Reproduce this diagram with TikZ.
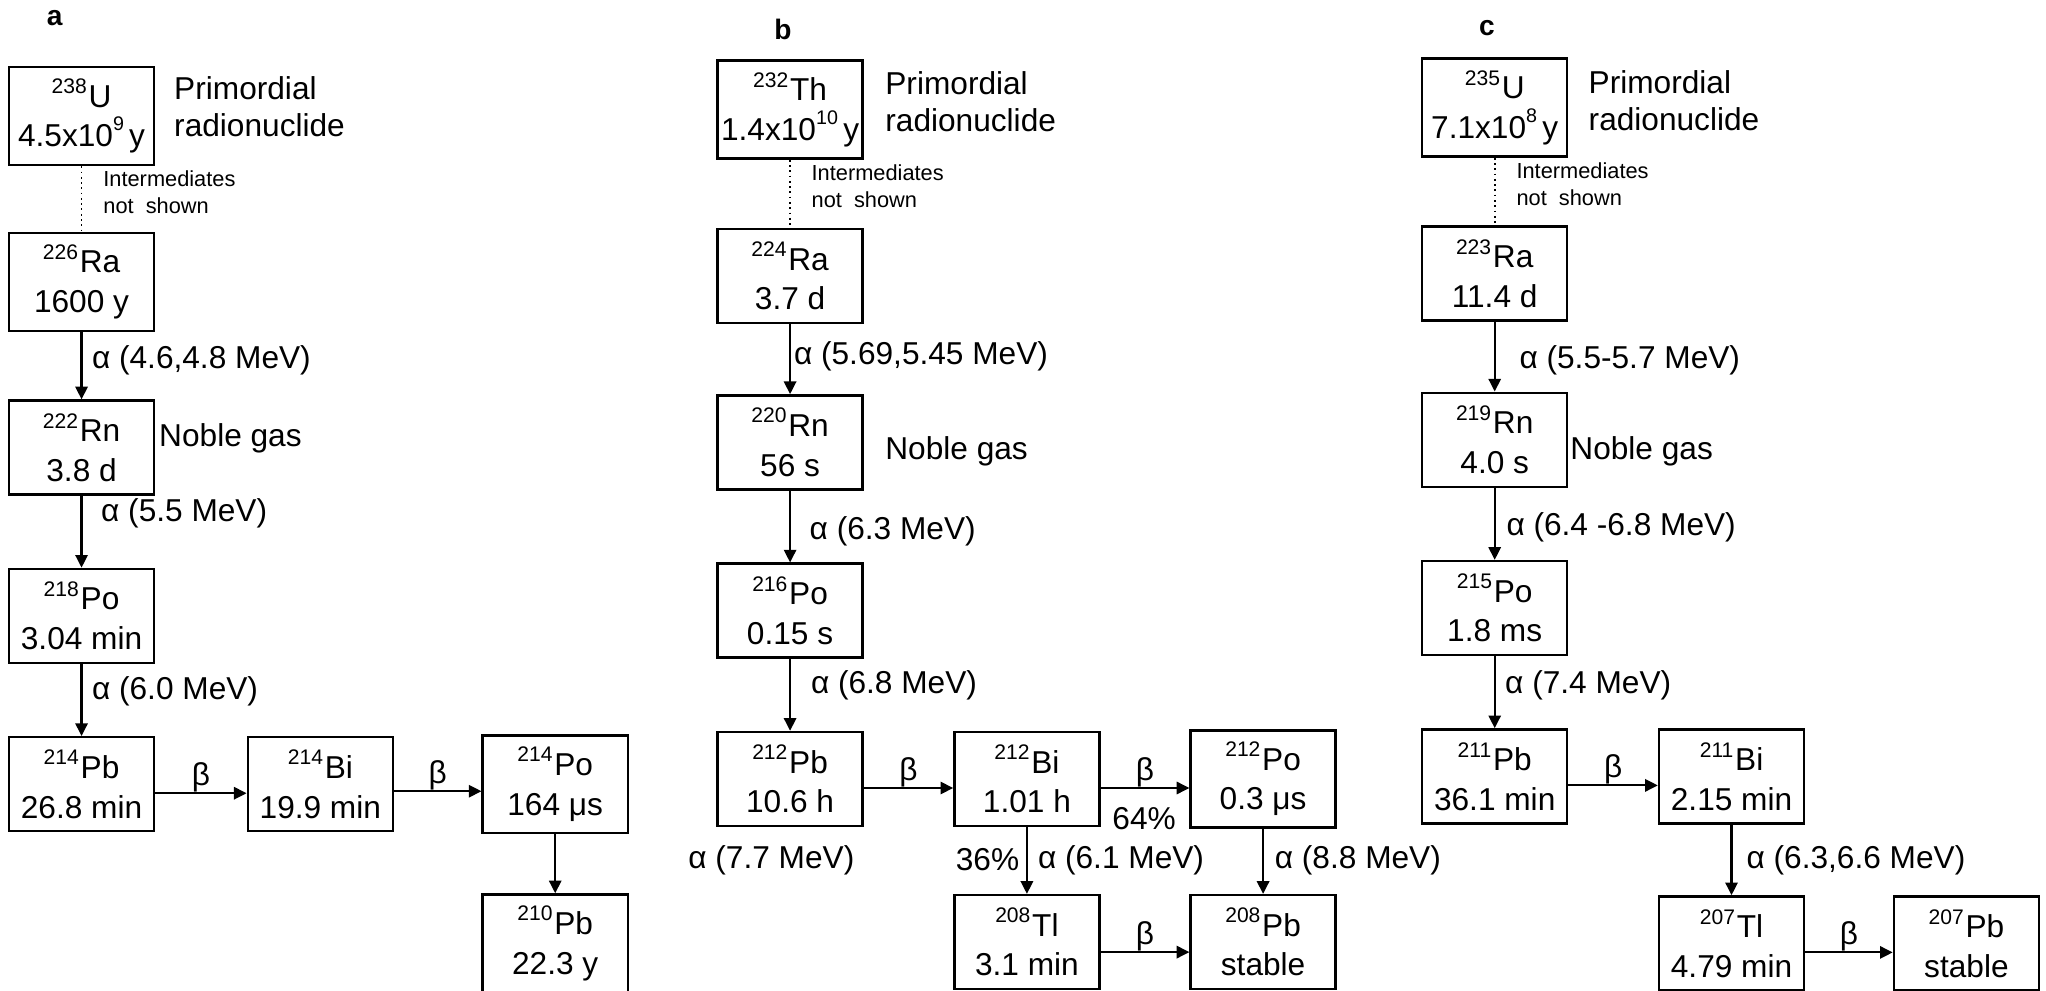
\documentclass[tikz,border=0pt]{standalone}
\usepackage{fontspec}
\setmainfont{Liberation Sans}
\usetikzlibrary{arrows.meta}

\newcommand{\nuc}[2]{\textsuperscript{#1}#2}
\newcommand{\expo}[1]{\raisebox{0.95ex}{\fontsize{5.6}{6}\selectfont #1}}

\begin{document}
\begin{tikzpicture}[x=0.01305cm, y=-0.01305cm,
    >={Triangle[length=3.6pt, width=3.5pt]},
    font=\fontsize{9}{11.3}\selectfont,
    box/.style={draw, line width=0.7pt, minimum width=1.45cm,
      minimum height=0.94cm, inner xsep=0pt, align=center},
    decay/.style={->, line width=0.6pt},
    lab/.style={anchor=west, inner sep=0pt},
    side/.style={anchor=west, inner sep=0pt, align=left,
      font=\fontsize{9}{10.5}\selectfont},
    note/.style={anchor=west, inner sep=0pt, align=left,
      font=\fontsize{6.2}{7.7}\selectfont},
    panel/.style={font=\fontsize{8}{9.6}\selectfont\bfseries}]
  \useasboundingbox (0,0) rectangle (1568,759);

  % a: uranium-238 series
  \node[panel] (pa) at (42,14) {a};
  \node[box] (u238) at (62.5,89) {\nuc{238}{U}\\4.5x10\expo{9}\,y};
  \node[side] (prima) at (133,82) {Primordial\\radionuclide};
  \node[note] (inta) at (78.7,147) {Intermediates\\not\ \ shown};
  \node[box] (ra226) at (62.5,216) {\nuc{226}{Ra}\\1600 y};
  \node[box] (rn222) at (62.5,343) {\nuc{222}{Rn}\\3.8 d};
  \node[lab] (noblea) at (121.5,336) {Noble gas};
  \node[box] (po218) at (62.5,472) {\nuc{218}{Po}\\3.04 min};
  \node[box] (pb214) at (62.5,601) {\nuc{214}{Pb}\\26.8 min};
  \node[box] (bi214) at (245.5,601) {\nuc{214}{Bi}\\19.9 min};
  \node[box] (po214) at (425.5,601) {\nuc{214}{Po}\\164 μs};
  \node[box] (pb210) at (425.5,723) {\nuc{210}{Pb}\\22.3 y};

  \draw[densely dotted, line width=0.5pt] (u238) -- (ra226);
  \draw[decay] (ra226) -- (rn222);
  \node[lab] (aa1) at (70,276) {α (4.6,4.8 MeV)};
  \draw[decay] (rn222) -- (po218);
  \node[lab] (aa2) at (77,393) {α (5.5 MeV)};
  \draw[decay] (po218) -- (pb214);
  \node[lab] (aa3) at (70,530) {α (6.0 MeV)};
  \draw[decay] ([yshift=-0.09cm]pb214.east) -- node[above, inner sep=0pt] (ba1) {β} ([yshift=-0.09cm]bi214.west);
  \draw[decay] ([yshift=-0.07cm]bi214.east) -- node[above, inner sep=0pt] (ba2) {β} ([yshift=-0.07cm]po214.west);
  \draw[decay] (po214) -- (pb210);

  % b: thorium-232 series
  \node[panel] (pb) at (600,22.5) {b};
  \node[box] (th232) at (605.5,84) {\nuc{232}{Th}\\1.4x10\expo{10}\,y};
  \node[side] (primb) at (678,78) {Primordial\\radionuclide};
  \node[note] (intb) at (621.5,142.5) {Intermediates\\not\ \ shown};
  \node[box] (ra224) at (605.5,211.5) {\nuc{224}{Ra}\\3.7 d};
  \node[box] (rn220) at (605.5,339) {\nuc{220}{Rn}\\56 s};
  \node[lab] (nobleb) at (678,346) {Noble gas};
  \node[box] (po216) at (605.5,468) {\nuc{216}{Po}\\0.15 s};
  \node[box] (pb212) at (605.5,597) {\nuc{212}{Pb}\\10.6 h};
  \node[box] (bi212) at (787,597) {\nuc{212}{Bi}\\1.01 h};
  \node[box] (po212) at (968,597) {\nuc{212}{Po}\\0.3 μs};
  \node[box] (tl208) at (787,722) {\nuc{208}{Tl}\\3.1 min};
  \node[box] (pb208) at (968,722) {\nuc{208}{Pb}\\stable};

  \draw[densely dotted, line width=0.5pt] (th232) -- (ra224);
  \draw[decay] (ra224) -- (rn220);
  \node[lab] (ab1) at (608,273) {α (5.69,5.45 MeV)};
  \draw[decay] (rn220) -- (po216);
  \node[lab] (ab2) at (620,407) {α (6.3 MeV)};
  \draw[decay] (po216) -- (pb212);
  \node[lab] (ab3) at (621,525) {α (6.8 MeV)};
  \node[lab] (ab4) at (527,659) {α (7.7 MeV)};
  \draw[decay] ([yshift=-0.09cm]pb212.east) -- node[above, inner sep=0pt] (bb1) {β} ([yshift=-0.09cm]bi212.west);
  \draw[decay] ([yshift=-0.09cm]bi212.east) -- node[above, inner sep=0pt] (bb2) {β} ([yshift=-0.09cm]po212.west);
  \node[lab] (pc64) at (852,627) {64\%};
  \draw[decay] (bi212) -- (tl208);
  \node[lab] (pc36) at (732,659) {36\%};
  \node[lab] (ab5) at (795,659) {α (6.1 MeV)};
  \draw[decay] (po212) -- (pb208);
  \node[lab] (ab6) at (976.5,659) {α (8.8 MeV)};
  \draw[decay] ([yshift=-0.1cm]tl208.east) -- node[above, inner sep=0pt] (bb3) {β} ([yshift=-0.1cm]pb208.west);

  % c: uranium-235 series
  \node[panel] (pc) at (1139.5,21.7) {c};
  \node[box] (u235) at (1145.5,82.5) {\nuc{235}{U}\\7.1x10\expo{8}\,y};
  \node[side] (primc) at (1217,77) {Primordial\\radionuclide};
  \node[note] (intc) at (1161.7,141) {Intermediates\\not\ \ shown};
  \node[box] (ra223) at (1145.5,209.5) {\nuc{223}{Ra}\\11.4 d};
  \node[box] (rn219) at (1145.5,337) {\nuc{219}{Rn}\\4.0 s};
  \node[lab] (noblec) at (1203,346) {Noble gas};
  \node[box] (po215) at (1145.5,466) {\nuc{215}{Po}\\1.8 ms};
  \node[box] (pb211) at (1145.5,595) {\nuc{211}{Pb}\\36.1 min};
  \node[box] (bi211) at (1327,595) {\nuc{211}{Bi}\\2.15 min};
  \node[box] (tl207) at (1327,723) {\nuc{207}{Tl}\\4.79 min};
  \node[box] (pb207) at (1507,723) {\nuc{207}{Pb}\\stable};

  \draw[densely dotted, line width=0.5pt] (u235) -- (ra223);
  \draw[decay] (ra223) -- (rn219);
  \node[lab] (ac1) at (1164,276) {α (5.5-5.7 MeV)};
  \draw[decay] (rn219) -- (po215);
  \node[lab] (ac2) at (1154,404) {α (6.4 -6.8 MeV)};
  \draw[decay] (po215) -- (pb211);
  \node[lab] (ac3) at (1153,525) {α (7.4 MeV)};
  \draw[decay] ([yshift=-0.09cm]pb211.east) -- node[above, inner sep=0pt] (bc1) {β} ([yshift=-0.09cm]bi211.west);
  \draw[decay] (bi211) -- (tl207);
  \node[lab] (ac4) at (1338,659) {α (6.3,6.6 MeV)};
  \draw[decay] ([yshift=-0.09cm]tl207.east) -- node[above, inner sep=0pt] (bc2) {β} ([yshift=-0.09cm]pb207.west);
\end{tikzpicture}
\end{document}
